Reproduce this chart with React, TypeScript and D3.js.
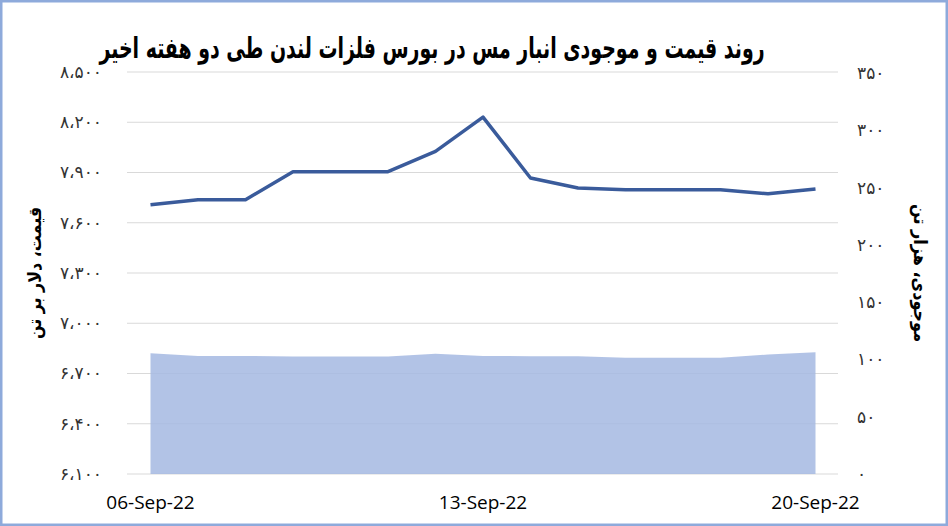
import React, { useLayoutEffect, useRef, useState } from "react";
import * as d3 from "d3";

// daily points, 6 to 20 Sep 2022
const dates: string[] = [
    "2022-09-06", "2022-09-07", "2022-09-08", "2022-09-09", "2022-09-10",
    "2022-09-11", "2022-09-12", "2022-09-13", "2022-09-14", "2022-09-15",
    "2022-09-16", "2022-09-17", "2022-09-18", "2022-09-19", "2022-09-20",
];
// price, USD per tonne (left axis)
const price: number[] = [
    7707, 7737, 7737, 7905, 7905, 7905, 8026, 8231, 7867, 7807,
    7797, 7797, 7797, 7773, 7801,
];
// stocks, thousand tonnes (right axis)
const stock: number[] = [
    105.4, 103.1, 103.1, 102.5, 102.5, 102.5, 104.9, 103.1, 102.8, 102.8,
    101.4, 101.4, 101.4, 104.3, 106.3,
];
const priceTicks: number[] = [6100, 6400, 6700, 7000, 7300, 7600, 7900, 8200, 8500];
const stockTicks: number[] = [0, 50, 100, 150, 200, 250, 300, 350];
const xTickDates: string[] = ["2022-09-06", "2022-09-13", "2022-09-20"];

const title = "روند قیمت و موجودی انبار مس در بورس فلزات لندن طی دو هفته اخیر";
const leftTitle = "قیمت، دلار بر تن";
const rightTitle = "موجودی، هزار تن";

const W = 948;
const H = 526;
const persianFont = "'DejaVu Sans', 'Noto Sans', sans-serif";

// convert latin digits to persian, with arabic comma as separator
const toFa = (n: number) =>
    d3.format(",")(n)
        .replace(/,/g, "،")
        .replace(/\d/g, d => "۰۱۲۳۴۵۶۷۸۹"[+d]);

const parse = d3.utcParse("%Y-%m-%d");
const fmtX = d3.utcFormat("%d-%b-%y");

// text squeezed horizontally to a target width (the original uses a condensed font)
function Squeezed(props: {
    text: string; x: number; y: number; width: number; size: number; rotate?: number;
}) {
    const ref = useRef<SVGTextElement>(null);
    const [k, setK] = useState(0.7);
    useLayoutEffect(() => {
        if (!ref.current) return;
        const w = ref.current.getComputedTextLength();
        if (w > 0) setK(Math.min(1, props.width / w));
    }, [props.text, props.width, props.size]);
    return (
        <text
            ref={ref}
            transform={`translate(${props.x},${props.y}) rotate(${props.rotate ?? 0}) scale(${k},1)`}
            textAnchor="middle"
            fontFamily={persianFont}
            fontWeight="bold"
            fontSize={props.size}
            fill="#000"
        >
            {props.text}
        </text>
    );
}

export default function App() {
    const plot = { left: 127, right: 838, top: 72, bottom: 474 };

    const x = d3
        .scaleUtc()
        .domain(d3.extent(dates, d => parse(d)!) as [Date, Date])
        .range([150.5, 815.5]);

    const yL = d3.scaleLinear().domain([6100, 8500]).range([plot.bottom, plot.top]);
    const yR = d3.scaleLinear().domain([0, 350]).range([plot.bottom, plot.top + 1]);

    const rows = dates.map((d, i) => ({ date: parse(d)!, price: price[i], stock: stock[i] }));

    const area = d3
        .area<typeof rows[0]>()
        .x(d => x(d.date))
        .y0(yR(0))
        .y1(d => yR(d.stock));

    const line = d3
        .line<typeof rows[0]>()
        .x(d => x(d.date))
        .y(d => yL(d.price));

    const midY = (plot.top + plot.bottom) / 2;

    return (
        <svg
            width={W}
            height={H}
            style={{ position: "absolute", left: 0, top: 0, background: "#fff" }}
        >
            <rect x={1.25} y={1.25} width={W - 2.5} height={H - 2.5} fill="#fff" stroke="#8eaadb" strokeWidth={2.5} />

            <Squeezed text={title} x={432} y={58} width={665} size={29} />

            {/* gridlines */}
            {priceTicks.map(t => (
                <line key={t} x1={plot.left} x2={plot.right} y1={yL(t)} y2={yL(t)} stroke="#d9d9d9" strokeWidth={1} />
            ))}

            <path d={area(rows)!} fill="#a4b9e2" fillOpacity={0.85} />
            <path d={line(rows)!} fill="none" stroke="#3a5b9b" strokeWidth={3.5} strokeLinejoin="round" />

            {/* left axis */}
            {priceTicks.map(t => (
                <text key={t} x={102} y={yL(t)} dy="0.35em" textAnchor="end" fontFamily={persianFont} fontSize={17} fill="#333">
                    {toFa(t)}
                </text>
            ))}
            {/* right axis */}
            {stockTicks.map(t => (
                <text key={t} x={857} y={yR(t)} dy="0.35em" textAnchor="start" fontFamily={persianFont} fontSize={17} fill="#333">
                    {toFa(t)}
                </text>
            ))}
            {/* x axis */}
            {xTickDates.map(d => (
                <text key={d} x={x(parse(d)!)} y={509} textAnchor="middle" fontFamily="'Open Sans', sans-serif" fontSize={19} fill="#000">
                    {fmtX(parse(d)!)}
                </text>
            ))}

            <Squeezed text={leftTitle} x={41} y={midY} width={132} size={18} rotate={-90} />
            <Squeezed text={rightTitle} x={914} y={midY} width={138} size={18} rotate={90} />
        </svg>
    );
}
